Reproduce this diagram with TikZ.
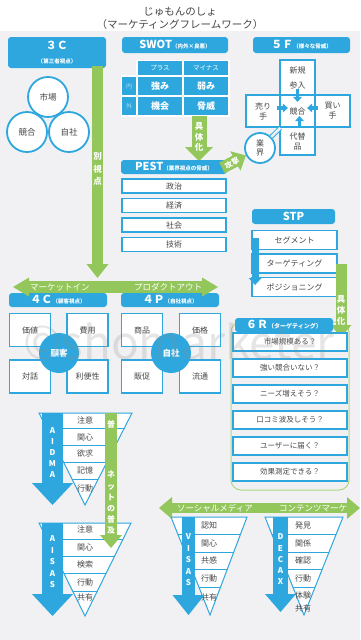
\documentclass[tikz,border=0pt]{standalone}
\usepackage{fontspec}
\setmainfont{Noto Sans CJK JP}
\usepackage{tikz}
\usetikzlibrary{arrows.meta,positioning,calc}
\definecolor{jmBlue}{HTML}{2EA7DE}
\definecolor{jmGreen}{HTML}{94C75B}
\definecolor{jmBg}{HTML}{F1F1F3}
\definecolor{jmText}{HTML}{474747}
\definecolor{jmPale}{HTML}{A9DDF3}
\newcommand\subtag[1]{{\fontsize{5.5}{6}\selectfont #1}}
\tikzset{
  ttl/.style={font=\fontsize{10.5}{12}\selectfont, text=jmText, inner sep=0pt},
  hdr/.style={fill=jmBlue, rounded corners=3pt, text=white, inner sep=0pt, align=center,
    font=\fontsize{11}{12}\selectfont\bfseries},
  item/.style={draw=jmBlue, line width=1.8pt, fill=white, inner sep=0pt, text=jmText,
    font=\fontsize{8}{10}\selectfont, align=center},
  swcell/.style={fill=jmBlue, draw=white, line width=1.2pt, inner sep=0pt, text=white,
    font=\fontsize{9}{10}\selectfont\bfseries},
  ring/.style={circle, draw=jmBlue, line width=1.8pt, fill=white, inner sep=0pt, text=jmText,
    font=\fontsize{8.5}{10}\selectfont, align=center},
  hub/.style={circle, fill=jmBlue, inner sep=0pt, minimum size=40pt, text=white,
    font=\fontsize{8.5}{10}\selectfont\bfseries},
  garrow/.style n args={3}{draw=jmGreen, line width=#1,
    -{Triangle[length=#2, width=#3, line width=0pt]}},
  gboth/.style n args={3}{draw=jmGreen, line width=#1,
    {Triangle[length=#2, width=#3, line width=0pt]}-{Triangle[length=#2, width=#3, line width=0pt]}},
  barrow/.style n args={3}{draw=jmBlue, line width=#1,
    -{Triangle[length=#2, width=#3, line width=0pt]}},
  vlabel/.style={text=white, inner sep=0pt, align=center, font=\fontsize{8.5}{#1}\selectfont\bfseries},
  band/.style={text=white, inner sep=0pt, font=\fontsize{8.5}{9}\selectfont},
  funnel/.style={draw=jmBlue, line width=1pt, fill=white},
  funline/.style={draw=jmBlue, line width=0.9pt},
  fstep/.style={text=jmText, inner sep=0pt, font=\fontsize{8}{9}\selectfont},
  wmark/.style={text=black!45, text opacity=0.22, inner sep=0pt, font=\fontsize{46}{46}\selectfont}
}
\begin{document}
\begin{tikzpicture}[x=1pt, y=-1pt]
  \fill[jmBg] (0,0) rectangle (360,640);
  \fill[white] (0,0) rectangle (360,31);
  \useasboundingbox (0,0) rectangle (360,640);

  \node[ttl] (title) at (180,12) {じゅもんのしょ};
  \node[ttl] (subtitle) at (180,25) {（マーケティングフレームワーク）};

  % 3C
  \node[hdr, minimum width=98pt, minimum height=31pt] (h3c) at (57,52.5) {３Ｃ\\[2pt]\subtag{（第三者視点）}};
  \node[ring, minimum size=40pt] (mkt) at (48,97) {市場};
  \node[ring, minimum size=40pt] (cmp) at (27,132) {競合};
  \node[ring, minimum size=40pt] (own) at (69,132) {自社};
  \coordinate (v3s) at (97.5,66);
  \coordinate (v3e) at (97.5,278);
  \draw[garrow={11pt}{14pt}{22pt}] (v3s) -- (v3e);
  \node[vlabel=12.5pt] (v3l) at (97.5,169) {別\\視\\点};

  % SWOT
  \node[hdr, minimum width=106pt, minimum height=16pt] (hswot) at (175,45) {SWOT\subtag{（内外×良悪）}};
  \node[swcell, minimum width=46pt, minimum height=15pt, font=\fontsize{6.5}{7}\selectfont] (plus) at (160,68) {プラス};
  \node[swcell, minimum width=46pt, minimum height=15pt, font=\fontsize{6.5}{7}\selectfont] (minus) at (206,68) {マイナス};
  \node[swcell, minimum width=15pt, minimum height=20pt, text=jmPale, font=\fontsize{6}{7}\selectfont] (inn) at (129,86) {内};
  \node[swcell, minimum width=15pt, minimum height=20pt, text=jmPale, font=\fontsize{6}{7}\selectfont] (out) at (129,106) {外};
  \node[swcell, minimum width=46pt, minimum height=20pt] (str) at (160,86) {強み};
  \node[swcell, minimum width=46pt, minimum height=20pt] (wk) at (206,86) {弱み};
  \node[swcell, minimum width=46pt, minimum height=20pt] (opp) at (160,106) {機会};
  \node[swcell, minimum width=46pt, minimum height=20pt] (thr) at (206,106) {脅威};
  \coordinate (swa) at (199,116);
  \coordinate (swb) at (199,161);
  \draw[garrow={15pt}{14pt}{28pt}] (swa) -- (swb);
  \node[vlabel=10.5pt] (swl) at (199,137) {具\\体\\化};

  % PEST
  \node[hdr, minimum width=106pt, minimum height=14pt] (hpest) at (174,167) {PEST\subtag{（業界視点の脅威）}};
  \foreach \t [count=\i] in {政治,経済,社会,技術}
    \node[item, minimum width=104pt, minimum height=14pt] (pest\i) at (174,{166.5+19.5*\i}) {\t};

  % 5F
  \node[hdr, minimum width=97pt, minimum height=16pt] (h5f) at (301.5,45) {５Ｆ\subtag{（様々な脅威）}};
  \node[item, minimum width=35pt, minimum height=35pt] (f5n) at (297.5,77.5) {新規\\[5pt]参入};
  \node[item, minimum width=34pt, minimum height=32pt] (f5l) at (263,111) {売り\\手};
  \node[item, minimum width=35pt, minimum height=32pt] (f5c) at (297.5,111) {競合};
  \node[item, minimum width=35pt, minimum height=32pt] (f5r) at (332.5,111) {買い\\手};
  \node[item, minimum width=35pt, minimum height=28pt] (f5s) at (297.5,141) {代替\\品};
  \draw[barrow={3.5pt}{5pt}{9pt}] ($(f5n.south)+(0,-7)$) -- ($(f5n.south)+(0,6)$);
  \draw[barrow={3.5pt}{5pt}{9pt}] ($(f5l.east)+(-4,-3)$) -- ($(f5l.east)+(7,-3)$);
  \draw[barrow={3.5pt}{5pt}{9pt}] ($(f5r.west)+(4,-3)$) -- ($(f5r.west)+(-7,-3)$);
  \draw[barrow={3.5pt}{5pt}{9pt}] ($(f5s.north)+(2,0)$) -- ($(f5s.north)+(2,-10)$);
  \node[ring, minimum size=30pt, font=\fontsize{8}{9.5}\selectfont] (gk) at (260,148) {業\\界};
  \draw[jmBlue, line width=1pt, double=jmBg, double distance=2.5pt] (gk) -- (f5c);
  \coordinate (atk) at (222,168);
  \draw[garrow={12pt}{12pt}{22pt}] (atk) -- (gk);
  \node[vlabel=9pt, rotate=28, font=\fontsize{7.5}{8}\selectfont\bfseries] (atkl) at (232,163) {攻撃};

  % STP
  \node[hdr, minimum width=83pt, minimum height=15pt] (hstp) at (293.5,216.5) {STP};
  \foreach \t [count=\i] in {セグメント,ターゲティング,ポジショニング}
    \node[item, minimum width=85pt, minimum height=19pt] (stp\i) at (294.5,{216.5+23.5*\i}) {\t};
  \draw[barrow={7pt}{7pt}{13pt}] ($(stp1.west)+(4,-2)$) -- ($(stp3.west)+(4,-2)$);

  % 6R
  \draw[jmGreen!75, line width=1pt, rounded corners=10pt] (231,322) rectangle (349,490);
  \coordinate (stpa) at (341,264);
  \coordinate (stpb) at (341,337);
  \draw[garrow={11pt}{12pt}{21pt}] (stpa) -- (stpb);
  \node[vlabel=11pt] (stpl) at (341,310) {具\\体\\化};
  \node[hdr, minimum width=98pt, minimum height=14pt] (h6r) at (284,325) {６Ｒ{\fontsize{6}{7}\selectfont（ターゲティング）}};
  \foreach \t [count=\i] in {市場規模ある？,強い競合いない？,ニーズ増えそう？,口コミ波及しそう？,ユーザーに届く？,効果測定できる？}
    \node[item, minimum width=114pt, minimum height=18pt, font=\fontsize{7.5}{9}\selectfont] (r6\i) at (290,{316+26*\i}) {\t};

  % 4C / 4P
  \node[hdr, minimum width=98pt, minimum height=14pt] (h4c) at (58,300) {４Ｃ\subtag{（顧客視点）}};
  \node[hdr, minimum width=98pt, minimum height=14pt] (h4p) at (170,300) {４Ｐ\subtag{（自社視点）}};
  \coordinate (mkin) at (13,287);
  \coordinate (prout) at (218,287);
  \draw[gboth={12pt}{16pt}{19pt}] (mkin) -- (prout);
  \node[band] (mkinl) at (60,287) {マーケットイン};
  \node[band] (proutl) at (168,287) {プロダクトアウト};
  \node[item, minimum width=41pt, minimum height=33pt] (c4a) at (30,330) {価値};
  \node[item, minimum width=41pt, minimum height=33pt] (c4b) at (87.5,330) {費用};
  \node[item, minimum width=41pt, minimum height=33pt] (c4c) at (30,376.5) {対話};
  \node[item, minimum width=41pt, minimum height=33pt] (c4d) at (87.5,376.5) {利便性};
  \node[hub] (cust) at (59,353) {顧客};
  \node[item, minimum width=41pt, minimum height=33pt] (p4a) at (142,330) {商品};
  \node[item, minimum width=41pt, minimum height=33pt] (p4b) at (200,330) {価格};
  \node[item, minimum width=41pt, minimum height=33pt] (p4c) at (142,376.5) {販促};
  \node[item, minimum width=41pt, minimum height=33pt] (p4d) at (200,376.5) {流通};
  \node[hub] (self) at (171,353) {自社};

  % AIDMA
  \coordinate (adl) at (39,413); \coordinate (adr) at (132,413); \coordinate (adt) at (85,505);
  \draw[funnel] (adl) -- (adr) -- (adt) -- cycle;
  \begin{scope}
    \clip (adl) -- (adr) -- (adt) -- cycle;
    \foreach \y in {428,445,462,479} \draw[funline] (0,\y) -- (360,\y);
  \end{scope}
  \foreach \t/\y [count=\i] in {注意/420,関心/437,欲求/453,記憶/470,行動/488}
    \node[fstep] (aidma\i) at (85,\y) {\t};
  \coordinate (ada) at (52.5,413); \coordinate (adb) at (52.5,505);
  \draw[barrow={21pt}{22pt}{41pt}] (ada) -- (adb);
  \node[vlabel=11pt, font=\fontsize{8}{11}\selectfont\bfseries] (adlbl) at (52.5,453) {A\\I\\D\\M\\A};

  % AISAS
  \coordinate (asl) at (39,523); \coordinate (asr) at (131,523); \coordinate (ast) at (85,616);
  \draw[funnel] (asl) -- (asr) -- (ast) -- cycle;
  \begin{scope}
    \clip (asl) -- (asr) -- (ast) -- cycle;
    \foreach \y in {539,556,573,591} \draw[funline] (0,\y) -- (360,\y);
  \end{scope}
  \foreach \t/\y [count=\i] in {注意/529,関心/547,検索/564,行動/582,共有/597}
    \node[fstep] (aisas\i) at (85,\y) {\t};
  \coordinate (asa) at (52.5,523); \coordinate (asb) at (52.5,616);
  \draw[barrow={21pt}{22pt}{41pt}] (asa) -- (asb);
  \node[vlabel=11.5pt, font=\fontsize{8}{11.5}\selectfont\bfseries] (aslbl) at (52.5,562) {A\\I\\S\\A\\S};

  % net
  \coordinate (neta) at (111,413); \coordinate (netb) at (111,548);
  \draw[garrow={12pt}{13pt}{22pt}] (neta) -- (netb);
  \node[vlabel=11pt, font=\fontsize{8}{9}\selectfont\bfseries] (nettop) at (111,424) {普};
  \node[vlabel=11.2pt, font=\fontsize{8}{11.2}\selectfont\bfseries] (netl) at (111,503) {ネ\\ッ\\ト\\の\\普\\及};

  % VISAS / DECAX
  \coordinate (sma) at (159,508); \coordinate (smb) at (360,508);
  \draw[gboth={10pt}{13pt}{22pt}] (sma) -- (smb);
  \node[band] (sml) at (215,508) {ソーシャルメディア};
  \node[band] (cml) at (313,508) {コンテンツマーケ};

  \coordinate (vsl) at (171,517); \coordinate (vsr) at (247,517); \coordinate (vst) at (210,615);
  \draw[funnel] (vsl) -- (vsr) -- (vst) -- cycle;
  \begin{scope}
    \clip (vsl) -- (vsr) -- (vst) -- cycle;
    \foreach \y in {534,552,569,587} \draw[funline] (0,\y) -- (360,\y);
  \end{scope}
  \foreach \t/\y [count=\i] in {認知/525,関心/543,共感/560,行動/578,共有/597}
    \node[fstep] (visas\i) at (209,\y) {\t};
  \coordinate (vsa) at (188.5,517); \coordinate (vsb) at (188.5,615);
  \draw[barrow={13pt}{20pt}{32pt}] (vsa) -- (vsb);
  \node[vlabel=11.5pt, font=\fontsize{8}{11.5}\selectfont\bfseries] (vslbl) at (188.5,560) {V\\I\\S\\A\\S};

  \coordinate (dcl) at (265,517); \coordinate (dcr) at (343,517); \coordinate (dct) at (304,615);
  \draw[funnel] (dcl) -- (dcr) -- (dct) -- cycle;
  \begin{scope}
    \clip (dcl) -- (dcr) -- (dct) -- cycle;
    \foreach \y in {534,552,569,587} \draw[funline] (0,\y) -- (360,\y);
  \end{scope}
  \foreach \t/\y [count=\i] in {発見/525,関係/543,確認/560,行動/578,体験/595,共有/608}
    \node[fstep] (decax\i) at (303,\y) {\t};
  \coordinate (dca) at (280.5,517); \coordinate (dcb) at (280.5,612);
  \draw[barrow={15pt}{18pt}{31pt}] (dca) -- (dcb);
  \node[vlabel=11.25pt, font=\fontsize{8}{11.25}\selectfont\bfseries] (dclbl) at (280.5,559.5) {D\\E\\C\\A\\X};

  \node[wmark] (wm) at (179,341) {©shomarketer};
\end{tikzpicture}
\end{document}
